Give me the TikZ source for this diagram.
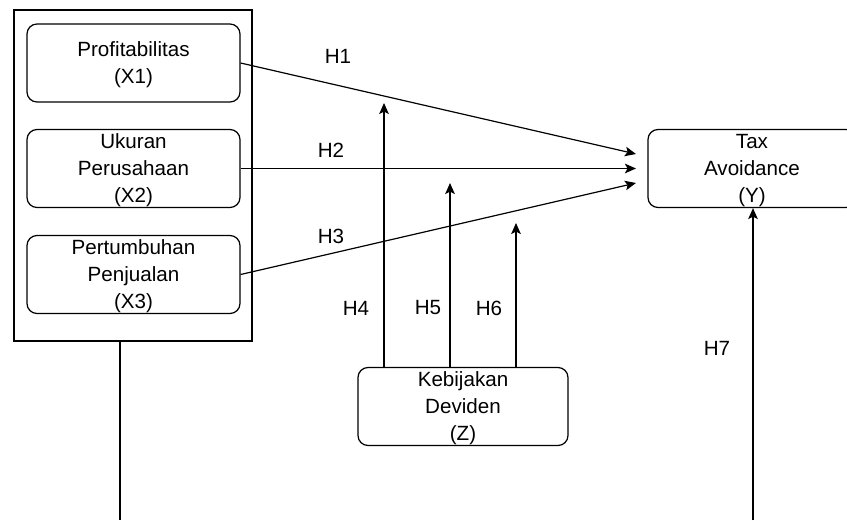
\documentclass[tikz,border=0pt]{standalone}
\usepackage{fontspec}
\setmainfont{Liberation Sans}
\usetikzlibrary{arrows.meta}

\begin{document}
\begin{tikzpicture}[x=0.5pt,y=-0.5pt,line width=0.6pt,
  varbox/.style={draw,rounded corners=5pt,align=center,inner sep=0pt,
    text depth=-4pt,minimum width=106.5pt,minimum height=39pt},
  hyp/.style={-{Stealth[length=5.5pt,width=4.8pt,inset=1.2pt]}}]
  \fontsize{10.3}{13.5}\selectfont % affects text nodes in this picture
  \useasboundingbox (0,0) rectangle (847,520) ; \clip (0,0)
  rectangle (847,520) ;
  % independent variables
  \node[draw,inner sep=0pt,minimum width=119pt,minimum height=165.5pt]
  (grp) at (133,175.5) {} ; \node[varbox] (x1) at (133.5,63)
  {Profitabilitas\\(X1)} ; \node[varbox] (x2) at (133.5,168.5)
  {Ukuran\\Perusahaan\\(X2)} ; \node[varbox] (x3) at (133.5,274.5)
  {Pertumbuhan\\Penjualan\\(X3)} ;
  % dependent and moderating variable
  \node[varbox,minimum width=104pt] (y) at (752,168.5)
  {Tax\\Avoidance\\(Y)} ; \node[varbox,minimum width=105pt] (z) at
  (463,406.5) {Kebijakan\\Deviden\\(Z)} ;
  % direct effects
  \coordinate (t1) at (636,154) ; \coordinate (t2) at (636,168.5) ;
  \coordinate (t3) at (636,183) ; \draw[hyp] (x1.east) -- (t1) ;
  \draw[hyp] (x2.east) -- (t2) ; \draw[hyp] (x3.east) -- (t3) ;
  % moderating effects
  \coordinate (t4) at (384,103) ; \coordinate (t5) at (450,183) ;
  \coordinate (t6) at (516,223) ; \draw[hyp] (z.north -| t4) -- (t4) ;
  \draw[hyp] (z.north -| t5) -- (t5) ; \draw[hyp] (z.north -| t6) --
  (t6) ;
  % lines leaving the picture
  \coordinate (b0) at (120,520) ; \coordinate (b7) at (753,520) ;
  \draw (grp.south -| b0) -- (b0) ; \draw[hyp] (b7) -- (y.south -| b7) ;
  % hypothesis labels
  \node (h1) at (338,56) {H1} ; \node (h2) at (331,150) {H2} ; \node
  (h3) at (331,236) {H3} ; \node (h4) at (356,308) {H4} ; \node (h5)
  at (428,308) {H5} ; \node (h6) at (489,308) {H6} ; \node (h7) at
  (717,348) {H7} ;
\end{tikzpicture}
\end{document}
